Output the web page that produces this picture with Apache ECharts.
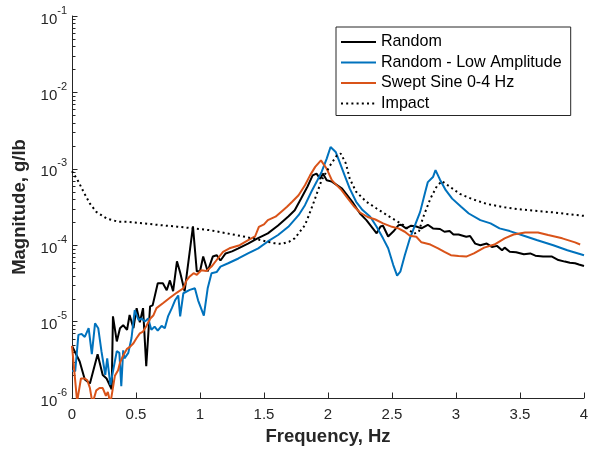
<!DOCTYPE html>
<html><head><meta charset="utf-8">
<script src="https://cdn.jsdelivr.net/npm/echarts@6/dist/echarts.min.js"></script>
<style>html,body{margin:0;padding:0;background:#fff}#c{width:593px;height:451px}</style>
</head><body><div id="c"></div>
<script>
// ---- data (frequency in Hz, magnitude in g/lb) ----
const seriesNames = ['Random', 'Random - Low Amplitude', 'Swept Sine 0-4 Hz', 'Impact'];

const randomFreq = [0,0.06,0.10,0.14,0.20,0.24,0.27,0.31,0.32,0.35,0.375,0.40,0.43,0.45,0.48,0.505,0.53,0.555,0.58,0.61,0.63,0.67,0.71,0.74,0.765,0.79,0.82,0.845,0.88,0.945,0.975,1.0,1.025,1.06,1.10,1.13,1.16,1.20,1.25,1.30,1.375,1.45,1.53,1.61,1.69,1.74,1.79,1.84,1.88,1.91,1.94,1.96,1.99,2.03,2.11,2.19,2.25,2.30,2.35,2.38,2.41,2.43,2.47,2.51,2.55,2.57,2.61,2.65,2.69,2.73,2.78,2.82,2.875,2.91,2.95,2.98,3.02,3.08,3.11,3.15,3.19,3.24,3.28,3.32,3.36,3.38,3.42,3.47,3.53,3.58,3.62,3.68,3.75,3.80,3.85,3.89,3.93,3.96,4.0];
const randomMag = [4.8e-6,3.0e-6,1.75e-6,1.55e-6,3.75e-6,2.0e-6,1.8e-6,1.3e-6,1.17e-5,5.5e-6,8.2e-6,9e-6,7.8e-6,1.22e-5,8.2e-6,1.5e-5,9.8e-6,1.5e-5,2.6e-6,1.58e-5,1.63e-5,3.17e-5,3.17e-5,2.57e-5,3.46e-5,2.5e-5,6.15e-5,4.4e-5,2.5e-5,1.76e-4,4.55e-5,4.55e-5,7.1e-5,4.55e-5,7.1e-5,7.4e-5,6.3e-5,7.8e-5,8.3e-5,9.1e-5,1.05e-4,1.23e-4,1.43e-4,1.81e-4,2.38e-4,2.87e-4,4.08e-4,5.86e-4,8.2e-4,8.65e-4,7.4e-4,8.65e-4,7.1e-4,6.8e-4,5.5e-4,3.7e-4,2.6e-4,2.13e-4,1.66e-4,1.43e-4,1.76e-4,1.8e-4,1.3e-4,1.51e-4,1.82e-4,1.85e-4,1.66e-4,1.8e-4,1.76e-4,1.66e-4,1.85e-4,1.66e-4,1.63e-4,1.5e-4,1.53e-4,1.38e-4,1.38e-4,1.29e-4,1.32e-4,1.05e-4,1.0e-4,1.05e-4,9.5e-5,9.8e-5,8.6e-5,9.3e-5,8.2e-5,8.1e-5,7.6e-5,7.8e-5,7.3e-5,7.1e-5,7.1e-5,6.4e-5,6.1e-5,5.9e-5,5.8e-5,5.6e-5,5.35e-5];

const lowAmpFreq = [0,0.025,0.05,0.075,0.10,0.13,0.155,0.18,0.205,0.23,0.26,0.275,0.30,0.325,0.35,0.37,0.385,0.40,0.41,0.44,0.465,0.49,0.52,0.545,0.57,0.595,0.62,0.645,0.67,0.70,0.725,0.75,0.78,0.805,0.83,0.845,0.87,0.92,0.96,0.985,1.03,1.06,1.09,1.13,1.16,1.22,1.30,1.375,1.455,1.53,1.61,1.69,1.77,1.82,1.87,1.91,1.95,1.99,2.02,2.06,2.09,2.13,2.17,2.22,2.27,2.33,2.38,2.43,2.47,2.51,2.54,2.565,2.60,2.64,2.68,2.72,2.76,2.78,2.82,2.84,2.875,2.92,2.97,3.04,3.10,3.19,3.27,3.34,3.42,3.53,3.63,3.76,3.87,4.0];
const lowAmpMag = [2.25e-6,2.25e-6,6.7e-6,6.9e-6,6.3e-6,8.2e-6,3.75e-6,9.5e-6,8.2e-6,4.1e-6,2.0e-6,3.3e-6,1.48e-6,2.47e-6,4.1e-6,3.9e-6,1.43e-6,4.2e-6,3.3e-6,3.9e-6,6.1e-6,1.41e-5,1.05e-5,1.1e-5,1.0e-5,1.1e-5,7.8e-6,8.6e-6,7.6e-6,8.8e-6,8.2e-6,1.17e-5,1.5e-5,1.9e-5,2.2e-5,1.17e-5,2.35e-5,2.6e-5,2.73e-5,1.9e-5,1.2e-5,2.73e-5,4.3e-5,4.45e-5,5.25e-5,5.8e-5,6.7e-5,7.8e-5,9.1e-5,1.12e-4,1.36e-4,1.74e-4,2.47e-4,3.34e-4,5.0e-4,6.7e-4,9.1e-4,1.36e-3,1.93e-3,1.66e-3,1.23e-3,8.2e-4,5.5e-4,3.7e-4,2.88e-4,2.36e-4,1.74e-4,1.23e-4,9.1e-5,5.5e-5,4.0e-5,4.5e-5,7.4e-5,1.23e-4,1.83e-4,2.73e-4,5.0e-4,6.7e-4,7.8e-4,9.6e-4,7.2e-4,5.25e-4,4.07e-4,3.18e-4,2.6e-4,2.13e-4,1.93e-4,1.66e-4,1.53e-4,1.33e-4,1.17e-4,1.0e-4,8.6e-5,7.4e-5];

const sweptFreq = [0,0.04,0.07,0.10,0.12,0.14,0.16,0.19,0.215,0.24,0.265,0.28,0.30,0.31,0.335,0.36,0.375,0.40,0.43,0.455,0.48,0.505,0.53,0.555,0.58,0.61,0.635,0.66,0.71,0.76,0.82,0.87,0.895,0.92,0.95,0.975,1.01,1.05,1.09,1.13,1.18,1.23,1.31,1.39,1.43,1.46,1.50,1.53,1.59,1.64,1.68,1.72,1.77,1.82,1.86,1.90,1.945,1.99,2.03,2.055,2.10,2.15,2.20,2.25,2.31,2.37,2.43,2.50,2.55,2.60,2.64,2.69,2.73,2.80,2.86,2.91,2.96,3.02,3.08,3.14,3.22,3.30,3.38,3.45,3.54,3.64,3.72,3.83,3.93,3.97];
const sweptMag = [4.8e-6,9e-7,1.8e-6,1.8e-6,1.7e-6,1.35e-6,8.5e-7,1.26e-6,1.35e-6,1.35e-6,1.07e-6,1.2e-6,8.5e-7,9e-7,1.95e-6,2.3e-6,2.9e-6,3.6e-6,4.4e-6,4.7e-6,5.2e-6,6.1e-6,7.0e-6,7.4e-6,8.7e-6,1.09e-5,1.2e-5,1.5e-5,1.74e-5,2.02e-5,2.4e-5,2.73e-5,3.47e-5,3.9e-5,4.3e-5,4.1e-5,4.7e-5,4.6e-5,5.25e-5,6.4e-5,8.2e-5,9.1e-5,1.0e-4,1.2e-4,1.3e-4,1.74e-4,1.87e-4,2.13e-4,2.36e-4,2.79e-4,3.18e-4,3.7e-4,4.5e-4,6.1e-4,8.2e-4,1.06e-3,1.29e-3,1.0e-3,7.1e-4,6.4e-4,5.4e-4,4.2e-4,3.26e-4,2.68e-4,2.34e-4,2.17e-4,1.93e-4,1.74e-4,1.66e-4,1.5e-4,1.33e-4,1.29e-4,1.09e-4,1.02e-4,9.1e-5,8.2e-5,7.4e-5,7.2e-5,7.1e-5,7.8e-5,9.3e-5,1.02e-4,1.23e-4,1.38e-4,1.47e-4,1.47e-4,1.36e-4,1.23e-4,1.09e-4,1.02e-4];

const impactFreq = [0,0.05,0.09,0.14,0.19,0.27,0.36,0.43,0.56,0.69,0.82,0.95,1.08,1.21,1.34,1.47,1.58,1.64,1.70,1.74,1.78,1.82,1.85,1.89,1.95,2.02,2.07,2.10,2.14,2.17,2.22,2.30,2.38,2.48,2.59,2.67,2.71,2.74,2.80,2.85,2.89,2.96,3.03,3.13,3.24,3.38,3.51,3.64,3.77,3.90,4.0];
const impactMag = [9.3e-4,6.8e-4,5.0e-4,3.5e-4,2.73e-4,2.24e-4,2.03e-4,2.03e-4,1.93e-4,1.83e-4,1.75e-4,1.66e-4,1.57e-4,1.43e-4,1.3e-4,1.17e-4,1.06e-4,1.04e-4,1.12e-4,1.23e-4,1.5e-4,1.83e-4,2.45e-4,3.7e-4,7.1e-4,1.13e-3,1.5e-3,1.58e-3,1.17e-3,7.4e-4,5.0e-4,3.7e-4,3.02e-4,2.36e-4,1.83e-4,1.41e-4,1.5e-4,2.24e-4,4.07e-4,5.9e-4,6.9e-4,5.7e-4,4.7e-4,4.0e-4,3.47e-4,3.13e-4,2.93e-4,2.8e-4,2.68e-4,2.52e-4,2.42e-4];

const xTicks = [0,0.5,1,1.5,2,2.5,3,3.5,4];
const yMin = 1e-6, yMax = 1e-1;

// ---- build chart ----
const FONT = 'Helvetica, Arial, "Liberation Sans", sans-serif';
const AX = '#262626';
function pairs(xs, ys) { return xs.map((x, i) => [x, ys[i]]); }

// minor tick positions on the log axis (2..9 x each decade)
const minorTicks = [];
for (let e = -6; e < -1; e++) for (let m = 2; m <= 9; m++) minorTicks.push([0, m * Math.pow(10, e)]);

const chart = echarts.init(document.getElementById('c'), null, {renderer: 'canvas'});
chart.setOption({
  animation: false,
  backgroundColor: '#fff',
  grid: {left: 72, right: 9, top: 16, bottom: 52, containLabel: false},
  legend: {
    data: seriesNames,
    orient: 'vertical',
    left: 336, top: 27,
    padding: [7, 9, 4, 4],
    itemGap: 4.5,
    itemWidth: 35, itemHeight: 14,
    backgroundColor: '#fff',
    borderColor: AX, borderWidth: 1,
    itemStyle: {opacity: 0, borderWidth: 0},
    textStyle: {fontFamily: FONT, fontSize: 16.1, color: '#000'},
    selectedMode: false
  },
  xAxis: {
    type: 'value', min: 0, max: 4, interval: 0.5,
    axisLine: {show: true, lineStyle: {color: AX, width: 1}},
    axisTick: {show: true, inside: true, length: 5.5, lineStyle: {color: AX}},
    splitLine: {show: false},
    axisLabel: {fontFamily: FONT, fontSize: 15, color: AX, margin: 9,
      formatter: v => String(v)},
    name: 'Frequency, Hz', nameLocation: 'middle', nameGap: 29,
    nameTextStyle: {fontFamily: FONT, fontSize: 18.5, fontWeight: 'bold', color: AX}
  },
  yAxis: {
    type: 'log', logBase: 10, min: yMin, max: yMax, splitNumber: 5,
    axisLine: {show: true, lineStyle: {color: AX, width: 1}},
    axisTick: {show: true, inside: true, length: 5.5, lineStyle: {color: AX}},
    splitLine: {show: false},
    axisLabel: {
      margin: 5,
      formatter: v => '{b|10}{s|' + Math.round(Math.log10(v)) + '}',
      rich: {
        b: {fontFamily: FONT, fontSize: 15, color: AX, lineHeight: 22, verticalAlign: 'bottom'},
        s: {fontFamily: FONT, fontSize: 11, color: AX, lineHeight: 22, verticalAlign: 'top'}
      }
    },
    name: 'Magnitude, g/lb', nameLocation: 'middle', nameGap: 42, nameRotate: 90,
    nameTextStyle: {fontFamily: FONT, fontSize: 18.5, fontWeight: 'bold', color: AX}
  },
  series: [
    {name: seriesNames[0], type: 'line', data: pairs(randomFreq, randomMag), showSymbol: false, symbol: 'none',
     lineStyle: {color: '#000000', width: 2}, itemStyle: {color: '#000000'}, clip: true},
    {name: seriesNames[1], type: 'line', data: pairs(lowAmpFreq, lowAmpMag), showSymbol: false, symbol: 'none',
     lineStyle: {color: '#0072BD', width: 2}, itemStyle: {color: '#0072BD'}, clip: true},
    {name: seriesNames[2], type: 'line', data: pairs(sweptFreq, sweptMag), showSymbol: false, symbol: 'none',
     lineStyle: {color: '#D95319', width: 2}, itemStyle: {color: '#D95319'}, clip: true},
    {name: seriesNames[3], type: 'line', data: pairs(impactFreq, impactMag), showSymbol: false, symbol: 'none',
     lineStyle: {color: '#000000', width: 2, type: [2, 3.2], cap: 'butt'}, itemStyle: {color: '#000000'}, clip: true},
    {name: 'minor', type: 'custom', data: minorTicks, silent: true, clip: false,
     renderItem: (params, api) => {
       const p = api.coord([api.value(0), api.value(1)]);
       const y = Math.round(p[1]) + 0.5;
       return {type: 'line', shape: {x1: p[0], y1: y, x2: p[0] + 3.5, y2: y},
               style: {stroke: AX, lineWidth: 1}};
     }}
  ]
});
</script></body></html>
